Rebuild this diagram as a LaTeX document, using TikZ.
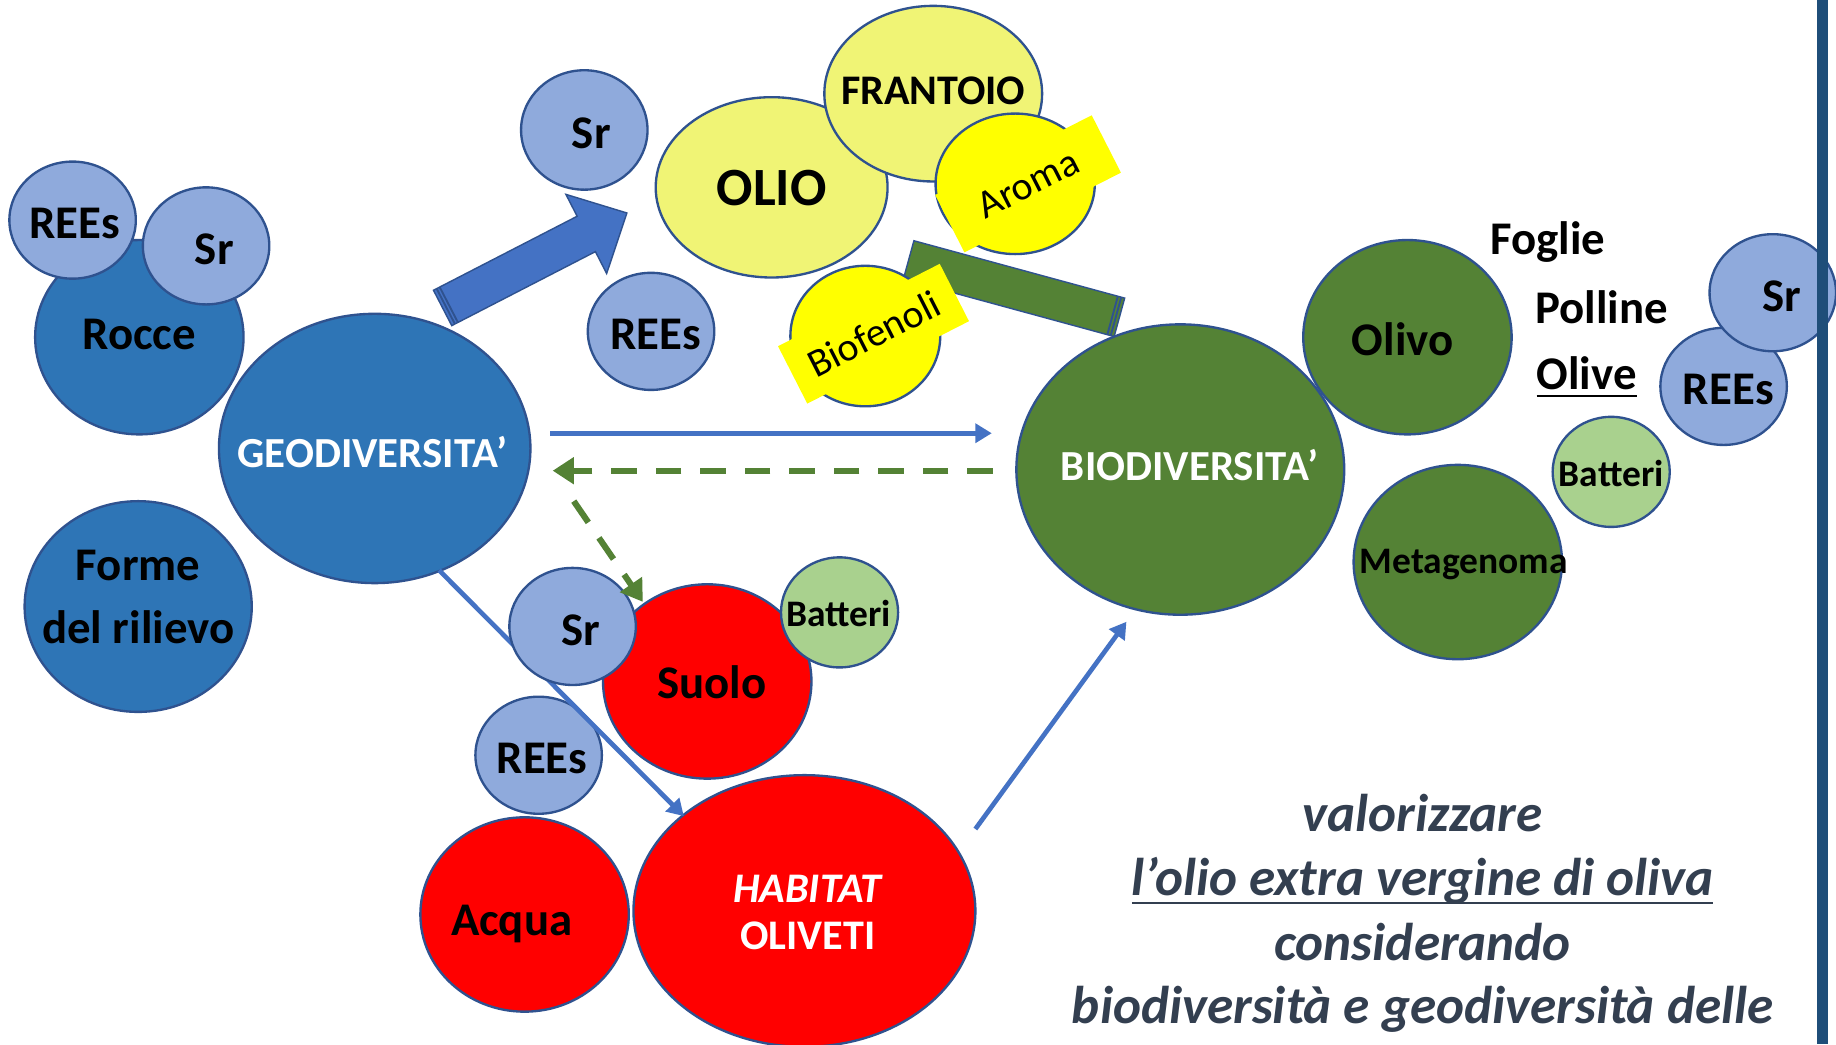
\documentclass[tikz,border=0pt]{standalone}
\usepackage{fontspec}
\setmainfont{Carlito}
\usetikzlibrary{shapes.geometric,arrows.meta}
\definecolor{dkblue}{HTML}{2E75B6}
\definecolor{outl}{HTML}{2F528F}
\definecolor{ltblue}{HTML}{8FAADC}
\definecolor{paleyel}{HTML}{F0F475}
\definecolor{yel}{HTML}{FFFF00}
\definecolor{grn}{HTML}{548235}
\definecolor{ltgrn}{HTML}{A9D18E}
\definecolor{rd}{HTML}{FF0000}
\definecolor{arrblue}{HTML}{4472C4}
\definecolor{slate}{HTML}{333F50}
\definecolor{barblue}{HTML}{1F4E79}
\tikzset{
  bub/.style={ellipse, draw=outl, line width=1pt, inner sep=0pt},
  lbl/.style={font=\bfseries\fontsize{20}{22}\selectfont, text=black, inner sep=0pt, align=center},
  slbl/.style={font=\bfseries\fontsize{16}{18}\selectfont, text=black, inner sep=0pt},
  wlbl/.style={font=\bfseries\fontsize{18.3}{20}\selectfont, text=white, inner sep=0pt, align=center},
  tag/.style={rectangle, fill=yel, inner sep=0pt, rotate=27, font=\fontsize{17}{19}\selectfont},
  thinarr/.style={draw=arrblue, line width=2pt, -{Triangle[length=7pt,width=8pt]}},
  dasharr/.style={draw=grn, line width=2.6pt, dash pattern=on 11pt off 8pt, -{Triangle[length=9pt,width=11pt]}},
  blockarr/.style={draw=outl, line width=0.6pt},
  stripe/.style={draw=outl, line width=0.8pt},
  note/.style={font=\bfseries\itshape\fontsize{22.7}{27.5}\selectfont, text=slate, inner sep=0pt},
}
\newcommand\bubble[6]{\node[bub,fill=#2,minimum width=#5pt,minimum height=#6pt] (#1) at (#3,#4) {};}
\newcommand\myul[2]{\leavevmode\setbox0\hbox{#2}\rlap{\rule[-#1]{\wd0}{1pt}}\box0}
\begin{document}
\begin{tikzpicture}[x=0.5pt,y=-0.5pt]
\useasboundingbox (0,0) rectangle (1568,892);
\fill[white] (0,0) rectangle (1568,892);

% blue block arrow
\draw[blockarr, fill=arrblue] (370.2,247.9) -- (492.9,184.7) -- (483.3,166) -- (535.4,181.9) -- (518.1,233.6) -- (508.5,214.9) -- (385.8,278.1) -- cycle;
\draw[stripe] (372.9,246.5) -- (388.5,276.7);
\draw[stripe] (375.5,245.2) -- (391.1,275.4);

% green block bar
\draw[blockarr, fill=grn] (960.5,254.6) -- (780.5,205.6) -- (771.5,238.4) -- (951.5,287.4) -- cycle;
\draw[stripe] (957.6,253.8) -- (948.6,286.6);
\draw[stripe] (954.7,253.0) -- (945.7,285.8);

% left group
\bubble{rocce}{dkblue}{119}{288}{89}{83}
\bubble{reesA}{ltblue}{62}{188}{54}{50}
\bubble{srA}{ltblue}{176}{210}{54}{50}
\bubble{geo}{dkblue}{320}{383}{133}{115}
\bubble{forme}{dkblue}{118}{518}{97}{90}

% top group
\bubble{srB}{ltblue}{499}{111}{54}{51}
\bubble{reesB}{ltblue}{556}{283}{54}{50}
\bubble{olio}{paleyel}{659}{160}{99}{77}
\bubble{frantoio}{paleyel}{797}{80}{93}{75}
\bubble{aromaC}{yel}{867}{157}{68}{60}
\node[tag, minimum width=75pt, minimum height=27.5pt] (aroma) at (878,157) {Aroma};
\bubble{biofC}{yel}{739}{287}{64}{60}
\node[tag, minimum width=77.5pt, minimum height=27.5pt] (biof) at (746,285) {Biofenoli};

% right group
\bubble{bio}{grn}{1008}{401}{140}{124}
\bubble{olivo}{grn}{1202}{288}{89}{83}
\bubble{meta}{grn}{1245}{480}{89}{83}
\bubble{battA}{ltgrn}{1376}{403}{50}{47}
\bubble{reesC}{ltblue}{1472}{330}{54}{50}
\bubble{srC}{ltblue}{1514}{250}{54}{50}

% bottom group
\bubble{suolo}{rd}{604}{582}{89}{83}
\bubble{reesD}{ltblue}{460}{645}{54}{50}
\coordinate (g1) at (375,487);
\coordinate (h1) at (584,697);
\bubble{acqua}{rd}{448}{781}{89}{83}
\bubble{habitat}{rd}{687}{778}{146}{116}
\draw[thinarr] (g1) -- (h1);
\bubble{srD}{ltblue}{489}{535}{54}{50}
\bubble{battB}{ltgrn}{717}{523}{50}{47}

% connectors
\coordinate (g2) at (470,370);
\coordinate (b2) at (847,370);
\draw[thinarr] (g2) -- (b2);
\coordinate (b3) at (848,402);
\coordinate (g3) at (472,402);
\draw[dasharr] (b3) -- (g3);
\coordinate (g4) at (490,428);
\coordinate (s4) at (549,514);
\draw[dasharr] (g4) -- (s4);
\coordinate (h5) at (833,708);
\coordinate (b5) at (962,531);
\draw[thinarr] (h5) -- (b5);

% labels
\node[lbl] (rocceT) at (119,286) {Rocce};
\node[lbl] (reesAT) at (64,191) {REEs};
\node[lbl] (srAT) at (183,213) {Sr};
\node[wlbl] (geoT) at (318,386) {GEODIVERSITA’};
\node[lbl] (formeT) at (118,510) {Forme\\[5pt]del rilievo};
\node[lbl] (srBT) at (505,114) {Sr};
\node[lbl] (reesBT) at (560,286) {REEs};
\node[lbl, font=\bfseries\fontsize{23}{25}\selectfont] (olioT) at (659,161) {OLIO};
\node[lbl, font=\bfseries\fontsize{18}{20}\selectfont] (frantoioT) at (797,78) {FRANTOIO};
\node[wlbl] (bioT) at (1016,397) {BIODIVERSITA’};
\node[lbl] (olivoT) at (1198,290) {Olivo};
\node[slbl] (metaT) at (1250,482) {Metagenoma};
\node[slbl] (battAT) at (1376,404) {Batteri};
\node[lbl] (reesCT) at (1476,333) {REEs};
\node[lbl] (srCT) at (1522,253) {Sr};
\node[lbl, anchor=base] (foglie) at (1322,217) {Foglie};
\node[lbl, anchor=base] (polline) at (1368,276) {Polline};
\node[lbl, anchor=base] (olive) at (1355,333) {\myul{3pt}{Olive}};
\node[lbl] (suoloT) at (608,583) {Suolo};
\node[lbl] (reesDT) at (463,648) {REEs};
\node[lbl] (srDT) at (496,538) {Sr};
\node[slbl] (battBT) at (716,524) {Batteri};
\node[lbl] (acquaT) at (437,789) {Acqua};
\node[wlbl, font=\bfseries\fontsize{18}{20}\selectfont] (habT) at (690,779) {\textit{HABITAT}\\[0pt]OLIVETI};

\node[note, anchor=base] (n1) at (1215,710) {valorizzare};
\node[note, anchor=base] (n2) at (1215,765) {\myul{3.5pt}{l’olio extra vergine di oliva}};
\node[note, anchor=base] (n3) at (1215,820) {considerando};
\node[note, anchor=base] (n4) at (1215,874) {biodiversità e geodiversità delle};

% right bar
\fill[barblue] (1552,0) rectangle (1561,892);
\end{tikzpicture}
\end{document}
